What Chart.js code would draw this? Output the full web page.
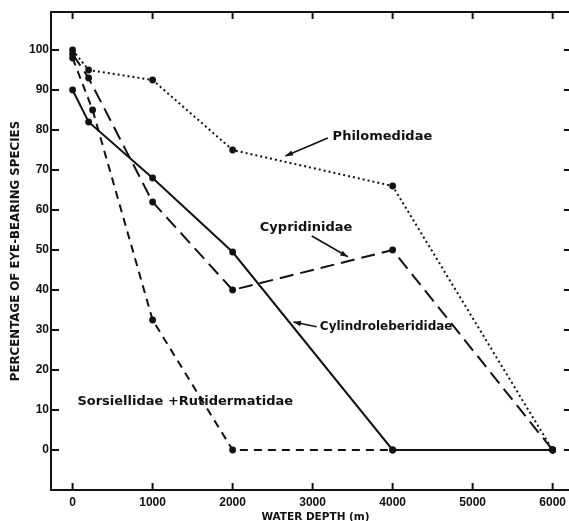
<!DOCTYPE html>
<html>
<head>
<meta charset="utf-8">
<script src="https://cdn.jsdelivr.net/npm/chart.js@4/dist/chart.umd.min.js"></script>
<style>
  html, body { margin: 0; padding: 0; background: #fff; overflow: hidden; }
  #wrap { width: 590px; height: 521px; }
</style>
</head>
<body>
<div id="wrap"><canvas id="chart" width="590" height="521"></canvas></div>
<script>
// values (depth in m, percentage of eye-bearing species)
const depthA = [0, 200, 1000, 2000, 4000, 6000];
const depthB = [0, 250, 1000, 2000, 4000, 6000];
const philomedidae = [100, 95, 92.5, 75, 66, 0];
const cypridinidae = [99, 93, 62, 40, 50, 0];
const cylindroleberididae = [90, 82, 68, 49.5, 0, 0];
const sorsiellidae = [98, 85, 32.5, 0, 0, 0];
const xTicks = [0, 1000, 2000, 3000, 4000, 5000, 6000];
const yTicks = [0, 10, 20, 30, 40, 50, 60, 70, 80, 90, 100];

const ink = '#111';

function pts(xs, ys) {
  return xs.map((x, i) => ({ x: x, y: ys[i] }));
}

function series(label, xs, ys, dash) {
  return {
    label: label,
    data: pts(xs, ys),
    borderColor: ink,
    borderWidth: 2,
    borderDash: dash,
    pointRadius: 3.4,
    pointBorderWidth: 0,
    pointBackgroundColor: ink,
    tension: 0,
    fill: false
  };
}

// frame (left, top, bottom; the right side falls off the page), inward ticks, labels with arrows
const decorations = {
  id: 'decorations',
  afterDraw(chart) {
    const { ctx, chartArea: a } = chart;
    const xs = chart.scales.x, ys = chart.scales.y;
    ctx.save();
    ctx.strokeStyle = ink;
    ctx.lineWidth = 2;
    ctx.beginPath();
    ctx.moveTo(a.right, a.top); ctx.lineTo(a.left, a.top);
    ctx.lineTo(a.left, a.bottom); ctx.lineTo(a.right, a.bottom);
    ctx.stroke();
    ctx.beginPath();
    xTicks.forEach(v => {
      const px = xs.getPixelForValue(v);
      ctx.moveTo(px, a.bottom); ctx.lineTo(px, a.bottom - 7);
      ctx.moveTo(px, a.top); ctx.lineTo(px, a.top + 7);
    });
    yTicks.forEach(v => {
      const py = ys.getPixelForValue(v);
      ctx.moveTo(a.left, py); ctx.lineTo(a.left + 8, py);
      ctx.moveTo(a.right, py); ctx.lineTo(a.right - 16, py);
    });
    ctx.stroke();

    const P = (x, y) => [xs.getPixelForValue(x), ys.getPixelForValue(y)];
    ctx.fillStyle = ink;
    ctx.textBaseline = 'middle';
    ctx.textAlign = 'left';
    const label = (t, x, y) => { const p = P(x, y); ctx.fillText(t, p[0], p[1]); };
    ctx.font = 'bold 13px "DejaVu Sans"';
    label('Philomedidae', 3250, 78.3);
    label('Cypridinidae', 2340, 55.5);
    label('Sorsiellidae +Rutidermatidae', 60, 12);
    ctx.font = 'bold 12px "DejaVu Sans"';
    label('Cylindroleberididae', 3090, 30.8);

    const arrow = (x1, y1, x2, y2) => {
      const a1 = P(x1, y1), a2 = P(x2, y2);
      const ang = Math.atan2(a2[1] - a1[1], a2[0] - a1[0]);
      ctx.lineWidth = 1.6;
      ctx.beginPath();
      ctx.moveTo(a1[0], a1[1]); ctx.lineTo(a2[0], a2[1]);
      ctx.stroke();
      ctx.beginPath();
      ctx.moveTo(a2[0], a2[1]);
      ctx.lineTo(a2[0] - 8 * Math.cos(ang - 0.35), a2[1] - 8 * Math.sin(ang - 0.35));
      ctx.lineTo(a2[0] - 8 * Math.cos(ang + 0.35), a2[1] - 8 * Math.sin(ang + 0.35));
      ctx.closePath();
      ctx.fill();
    };
    arrow(3190, 78, 2660, 73.5);
    arrow(2990, 53.5, 3440, 48.3);
    arrow(3050, 30.8, 2760, 32);
    ctx.restore();
  }
};

new Chart(document.getElementById('chart'), {
  type: 'line',
  data: {
    datasets: [
      series('Philomedidae', depthA, philomedidae, [2, 3]),
      series('Cypridinidae', depthA, cypridinidae, [14, 7]),
      series('Cylindroleberididae', depthA, cylindroleberididae, []),
      series('Sorsiellidae + Rutidermatidae', depthB, sorsiellidae, [8, 6])
    ]
  },
  options: {
    responsive: false,
    devicePixelRatio: 1,
    animation: false,
    layout: { padding: { top: 12, right: 10, left: 0, bottom: 0 } },
    plugins: { legend: { display: false }, tooltip: { enabled: false } },
    scales: {
      x: {
        type: 'linear',
        min: -270,
        max: 6342,
        afterBuildTicks: s => { s.ticks = xTicks.map(v => ({ value: v })); },
        afterFit: s => { s.height = 31; },
        grid: { display: false, drawTicks: false },
        border: { display: false },
        ticks: {
          color: ink, padding: 5, maxRotation: 0, autoSkip: false,
          callback: v => String(v),
          font: { family: 'Liberation Sans', weight: 'bold', size: 12 }
        },
        title: {
          display: true, text: 'WATER DEPTH (m)', color: ink,
          font: { family: 'DejaVu Sans', weight: 'bold', size: 10.5, lineHeight: 0.75 },
          padding: 0
        }
      },
      y: {
        min: -10,
        max: 109.5,
        afterBuildTicks: s => { s.ticks = yTicks.map(v => ({ value: v })); },
        afterFit: s => { s.width = 51; },
        grid: { display: false, drawTicks: false },
        border: { display: false },
        ticks: {
          color: ink, padding: 2,
          font: { family: 'Liberation Sans', weight: 'bold', size: 12 }
        },
        title: {
          display: true, text: 'PERCENTAGE OF EYE-BEARING SPECIES', color: ink,
          font: { family: 'DejaVu Sans', weight: 'bold', size: 11.8, lineHeight: 1 },
          padding: { top: 10, bottom: 0 }
        }
      }
    }
  },
  plugins: [decorations]
});
</script>
</body>
</html>
